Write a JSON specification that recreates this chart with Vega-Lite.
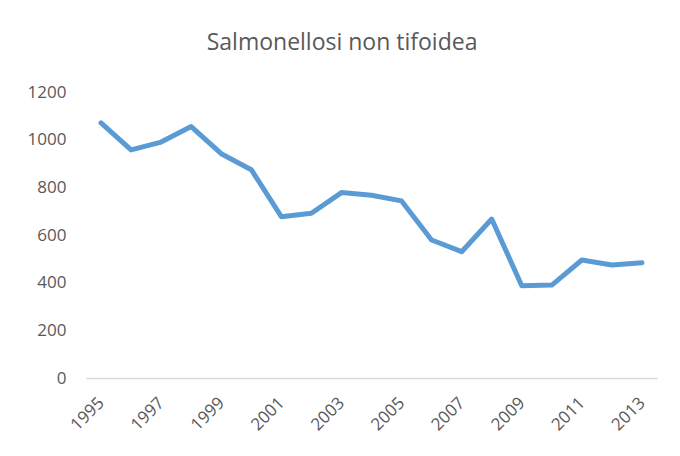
{
  "$schema": "https://vega.github.io/schema/vega-lite/v6.json",
  "width": 571,
  "height": 286,
  "autosize": {"type": "none"},
  "padding": {"left": 86, "top": 92, "right": 23, "bottom": 78},
  "background": "white",
  "title": {
    "text": "Salmonellosi non tifoidea",
    "font": "Open Sans",
    "fontSize": 23,
    "fontWeight": "normal",
    "color": "#595959",
    "anchor": "middle",
    "frame": "bounds",
    "offset": 28
  },
  "config": {
    "view": {"stroke": null},
    "axis": {
      "labelFont": "Open Sans",
      "labelFontSize": 17,
      "labelColor": "#595959",
      "grid": false,
      "ticks": false,
      "title": null
    }
  },
  "data": {
    "values": [
      {"year": 1995, "cases": 1070},
      {"year": 1996, "cases": 957},
      {"year": 1997, "cases": 990},
      {"year": 1998, "cases": 1055},
      {"year": 1999, "cases": 941},
      {"year": 2000, "cases": 874},
      {"year": 2001, "cases": 677},
      {"year": 2002, "cases": 691},
      {"year": 2003, "cases": 778},
      {"year": 2004, "cases": 767},
      {"year": 2005, "cases": 743},
      {"year": 2006, "cases": 579},
      {"year": 2007, "cases": 530},
      {"year": 2008, "cases": 667},
      {"year": 2009, "cases": 387},
      {"year": 2010, "cases": 390},
      {"year": 2011, "cases": 495},
      {"year": 2012, "cases": 474},
      {"year": 2013, "cases": 484}
    ]
  },
  "mark": {"type": "line", "color": "#5B9BD5", "strokeWidth": 5, "strokeCap": "round", "strokeJoin": "round"},
  "encoding": {
    "x": {
      "field": "year",
      "type": "ordinal",
      "scale": {"type": "point", "padding": 0.5},
      "axis": {
        "values": [1995, 1997, 1999, 2001, 2003, 2005, 2007, 2009, 2011, 2013],
        "labelAngle": -45,
        "labelAlign": "right",
        "labelBaseline": "middle",
        "labelPadding": 22,
        "labelDx": 6,
        "domainColor": "#D9D9D9",
        "domainWidth": 1.5
      }
    },
    "y": {
      "field": "cases",
      "type": "quantitative",
      "scale": {"domain": [0, 1200]},
      "axis": {
        "values": [0, 200, 400, 600, 800, 1000, 1200],
        "format": "d",
        "domain": false,
        "labelPadding": 20
      }
    }
  }
}
